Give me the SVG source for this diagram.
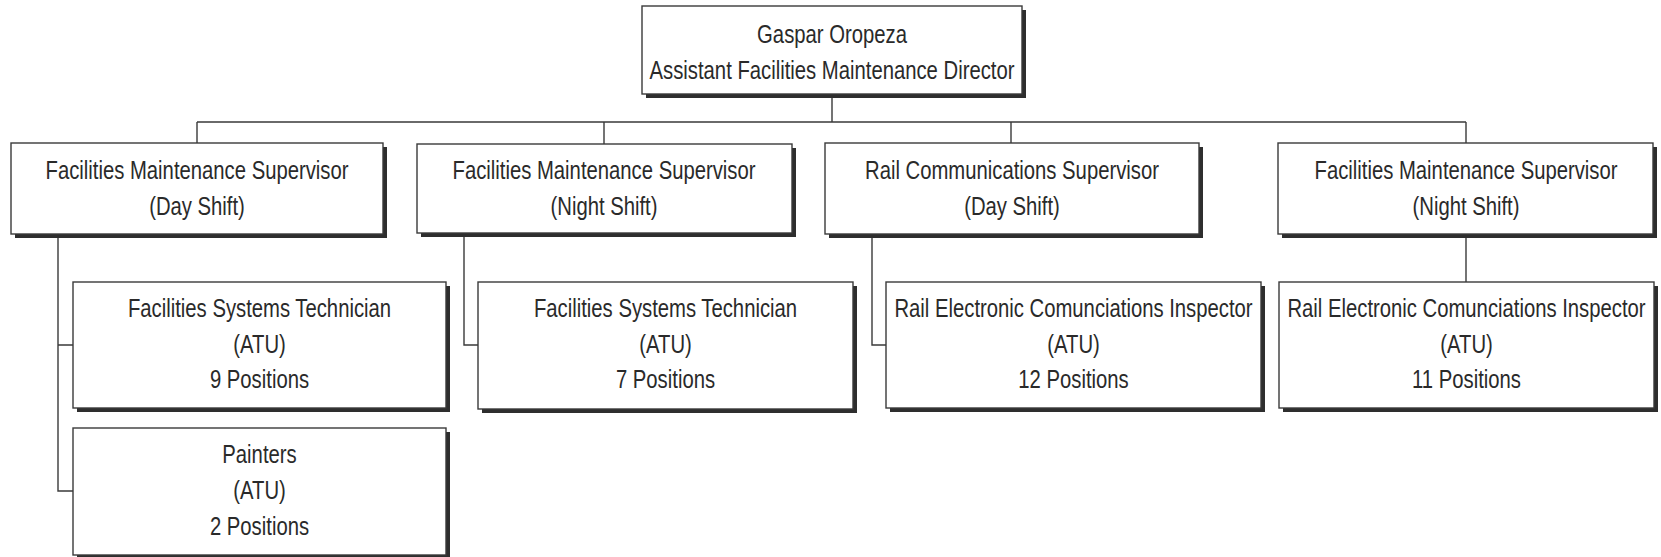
<svg xmlns="http://www.w3.org/2000/svg" width="1661" height="557" viewBox="0 0 1661 557">
<style>
.sh{fill:#2e2e2e}
.bx{fill:#fff;stroke:#3a3a3a;stroke-width:1.4}
.t{font-family:"Liberation Sans",Arial,sans-serif;font-size:26px;fill:#2a2a2a;text-anchor:middle}
.c{fill:none;stroke:#3a3a3a;stroke-width:1.4}
</style>
<rect width="1661" height="557" fill="#fff"/>
<g id="connectors" class="c">
<path d="M832 94V122M197 122H1466M197 122V143M604 122V144M1011 122V143M1466 122V143"/>
<path d="M58 234V491H73M58 345H73"/>
<path d="M464 233V345H478"/>
<path d="M872 234V345H886"/>
<path d="M1466 234V282"/>
</g>
<g id="director">
<rect class="sh" x="646" y="10" width="380" height="88"/>
<rect class="bx" x="642" y="6" width="380" height="88"/>
<g class="t" transform="matrix(0.78 0 0 1 832 0)">
<text y="43">Gaspar Oropeza</text>
<text y="79">Assistant Facilities Maintenance Director</text>
</g>
</g>
<g id="sup1">
<rect class="sh" x="15" y="147" width="372" height="91"/>
<rect class="bx" x="11" y="143" width="372" height="91"/>
<g class="t" transform="matrix(0.78 0 0 1 197 0)">
<text y="179">Facilities Maintenance Supervisor</text>
<text y="215">(Day Shift)</text>
</g>
</g>
<g id="sup2">
<rect class="sh" x="421" y="148" width="375" height="89"/>
<rect class="bx" x="417" y="144" width="375" height="89"/>
<g class="t" transform="matrix(0.78 0 0 1 604 0)">
<text y="179">Facilities Maintenance Supervisor</text>
<text y="215">(Night Shift)</text>
</g>
</g>
<g id="sup3">
<rect class="sh" x="829" y="147" width="374" height="91"/>
<rect class="bx" x="825" y="143" width="374" height="91"/>
<g class="t" transform="matrix(0.78 0 0 1 1012 0)">
<text y="179">Rail Communications Supervisor</text>
<text y="215">(Day Shift)</text>
</g>
</g>
<g id="sup4">
<rect class="sh" x="1282" y="147" width="375" height="91"/>
<rect class="bx" x="1278" y="143" width="375" height="91"/>
<g class="t" transform="matrix(0.78 0 0 1 1466 0)">
<text y="179">Facilities Maintenance Supervisor</text>
<text y="215">(Night Shift)</text>
</g>
</g>
<g id="tech1">
<rect class="sh" x="77" y="286" width="373" height="126"/>
<rect class="bx" x="73" y="282" width="373" height="126"/>
<g class="t" transform="matrix(0.78 0 0 1 259.5 0)">
<text y="317">Facilities Systems Technician</text>
<text y="353">(ATU)</text>
<text y="388">9 Positions</text>
</g>
</g>
<g id="painters">
<rect class="sh" x="77" y="432" width="373" height="127"/>
<rect class="bx" x="73" y="428" width="373" height="127"/>
<g class="t" transform="matrix(0.78 0 0 1 259.5 0)">
<text y="463">Painters</text>
<text y="499">(ATU)</text>
<text y="535">2 Positions</text>
</g>
</g>
<g id="tech2">
<rect class="sh" x="482" y="286" width="375" height="127"/>
<rect class="bx" x="478" y="282" width="375" height="127"/>
<g class="t" transform="matrix(0.78 0 0 1 665.5 0)">
<text y="317">Facilities Systems Technician</text>
<text y="353">(ATU)</text>
<text y="388">7 Positions</text>
</g>
</g>
<g id="insp1">
<rect class="sh" x="890" y="286" width="375" height="126"/>
<rect class="bx" x="886" y="282" width="375" height="126"/>
<g class="t" transform="matrix(0.78 0 0 1 1073.5 0)">
<text y="317">Rail Electronic Comunciations Inspector</text>
<text y="353">(ATU)</text>
<text y="388">12 Positions</text>
</g>
</g>
<g id="insp2">
<rect class="sh" x="1283" y="286" width="375" height="126"/>
<rect class="bx" x="1279" y="282" width="375" height="126"/>
<g class="t" transform="matrix(0.78 0 0 1 1466.5 0)">
<text y="317">Rail Electronic Comunciations Inspector</text>
<text y="353">(ATU)</text>
<text y="388">11 Positions</text>
</g>
</g>
</svg>
